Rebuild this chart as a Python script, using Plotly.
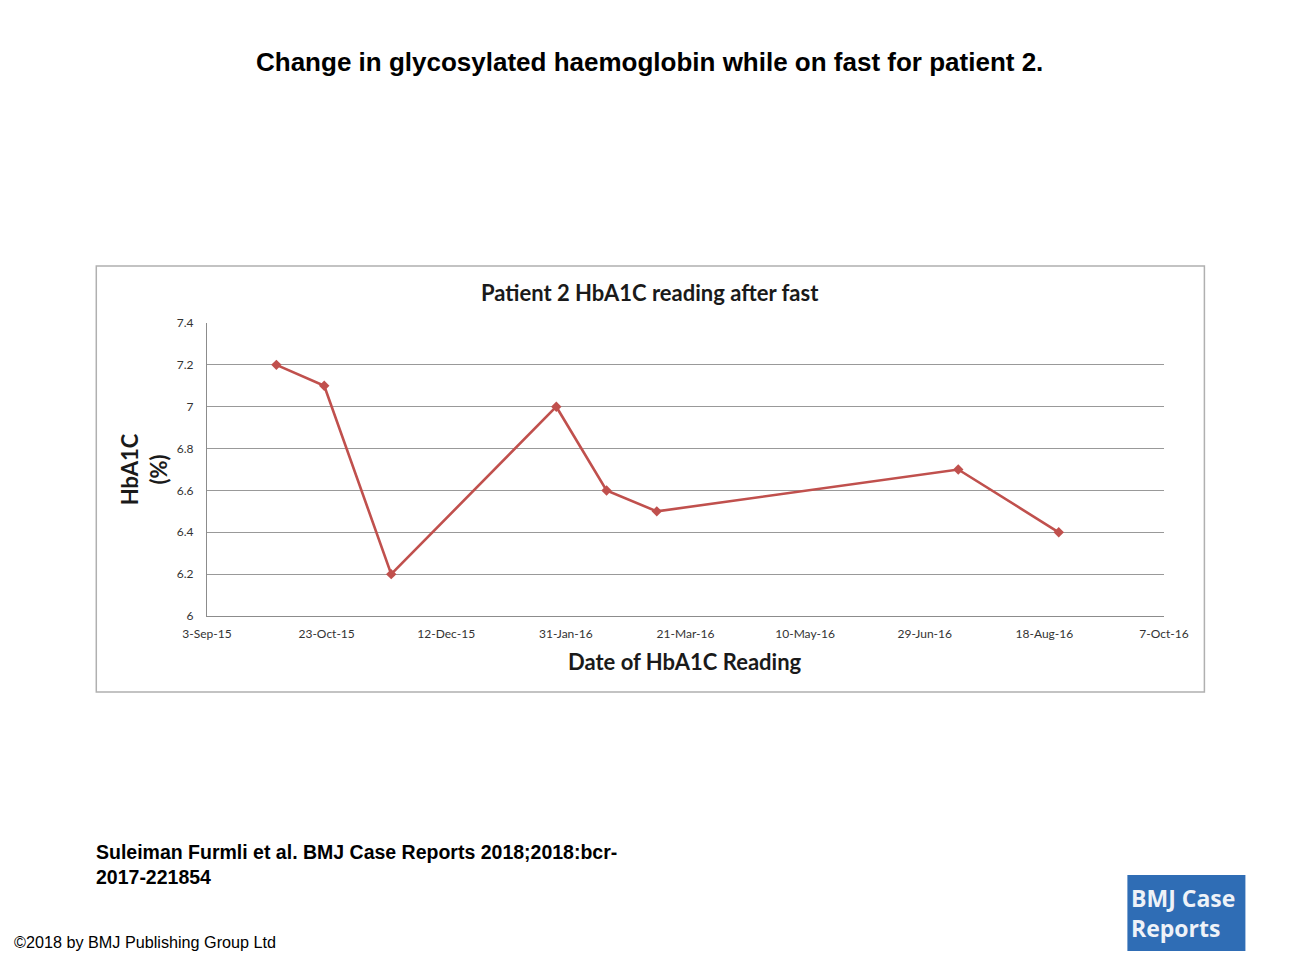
import plotly.graph_objects as go

# ---- data ----
dates = ["2015-10-02", "2015-10-22", "2015-11-19", "2016-01-27",
         "2016-02-17", "2016-03-09", "2016-07-13", "2016-08-24"]
hba1c = [7.2, 7.1, 6.2, 7.0, 6.6, 6.5, 6.7, 6.4]
y_ticks = [6, 6.2, 6.4, 6.6, 6.8, 7, 7.2, 7.4]
y_tick_labels = ["6", "6.2", "6.4", "6.6", "6.8", "7", "7.2", "7.4"]

W, H = 1300, 969
OFF = 8  # page body margin offset
PL, PR, PT, PB = 206.7, 1163.6, 323, 616  # plot area in screen pixels
L, R, T, B = PL - OFF, W - (PR - OFF), PT - OFF, H - (PB - OFF)


def X(px):
    return (px - OFF - L) / (W - L - R)


def Y(py):
    return (H - B - (py - OFF)) / (H - T - B)


fig = go.Figure()
fig.add_trace(go.Scatter(
    x=dates, y=hba1c, mode="lines+markers",
    line=dict(color="#c0504d", width=2.6),
    marker=dict(symbol="diamond", size=8, color="#c0504d"),
    showlegend=False, hoverinfo="x+y",
))

fig.update_layout(
    width=W, height=H, autosize=False,
    margin=dict(l=L, r=R, t=T, b=B, pad=0),
    paper_bgcolor="white", plot_bgcolor="white",
    font=dict(family="Lato", color="#333333"),
    xaxis=dict(
        type="date", range=["2015-09-03", "2016-10-07"],
        tick0="2015-09-03", dtick=50 * 86400000, tickformat="%-d-%b-%y",
        showgrid=False, showline=True, linecolor="#8c8c8c", linewidth=1.3,
        zeroline=False, ticks="", tickfont=dict(size=12, color="#333333", family="Lato"),
        ticklabelstandoff=6,
    ),
    yaxis=dict(
        range=[6, 7.4], tickvals=y_ticks, ticktext=y_tick_labels,
        showgrid=True, gridcolor="#999999", gridwidth=1.3,
        showline=True, linecolor="#8c8c8c", linewidth=1.3, zeroline=False,
        ticks="", tickfont=dict(size=12, color="#333333", family="Lato"),
        ticklabelstandoff=10,
    ),
)

shapes = [
    dict(type="rect", xref="paper", yref="paper",
         x0=X(96), x1=X(1204), y0=Y(692), y1=Y(266),
         line=dict(color="#b0b0b0", width=1.5), fillcolor="rgba(0,0,0,0)", layer="below"),
    dict(type="rect", xref="paper", yref="paper",
         x0=X(1127), x1=X(1245), y0=Y(951), y1=Y(875),
         line=dict(width=0), fillcolor="#2f6db5"),
    dict(type="line", xref="paper", yref="paper",
         x0=X(1298.5), x1=X(1298.5), y0=Y(969), y1=Y(0),
         line=dict(color="#d8d8d8", width=2)),
]
fig.update_layout(shapes=shapes)

ann = [
    dict(text="<b>Change in glycosylated haemoglobin while on fast for patient 2.</b>",
         x=X(649), y=Y(62), xanchor="center", yanchor="middle",
         font=dict(family="Liberation Sans", size=26, color="black")),
    dict(text="<b>Patient 2 HbA1C reading after fast</b>",
         x=X(650), y=Y(292), xanchor="center", yanchor="middle",
         font=dict(family="Lato", size=22, color="#1a1a1a")),
    dict(text="<b>Date of HbA1C Reading</b>",
         x=X(685), y=Y(661), xanchor="center", yanchor="middle",
         font=dict(family="Lato", size=22, color="#1a1a1a")),
    dict(text="<b>HbA1C<br>(%)</b>", textangle=-90,
         x=X(144), y=Y(469), xanchor="center", yanchor="middle",
         font=dict(family="Lato", size=22, color="#1a1a1a")),
    dict(text="<b>Suleiman Furmli et al. BMJ Case Reports 2018;2018:bcr-<br>2017-221854</b>",
         x=X(94), y=Y(864), xanchor="left", yanchor="middle", align="left",
         font=dict(family="Liberation Sans", size=19.5, color="black")),
    dict(text="©2018 by BMJ Publishing Group Ltd",
         x=X(12), y=Y(942), xanchor="left", yanchor="middle", align="left",
         font=dict(family="Liberation Sans", size=16.2, color="black")),
    dict(text="<b>BMJ Case<br>Reports</b>",
         x=X(1129), y=Y(913), xanchor="left", yanchor="middle", align="left",
         font=dict(family="Open Sans", size=23, color="#eef2f8")),
]
for a in ann:
    a.update(xref="paper", yref="paper", showarrow=False)
fig.update_layout(annotations=ann)

fig.write_html("out.html")
